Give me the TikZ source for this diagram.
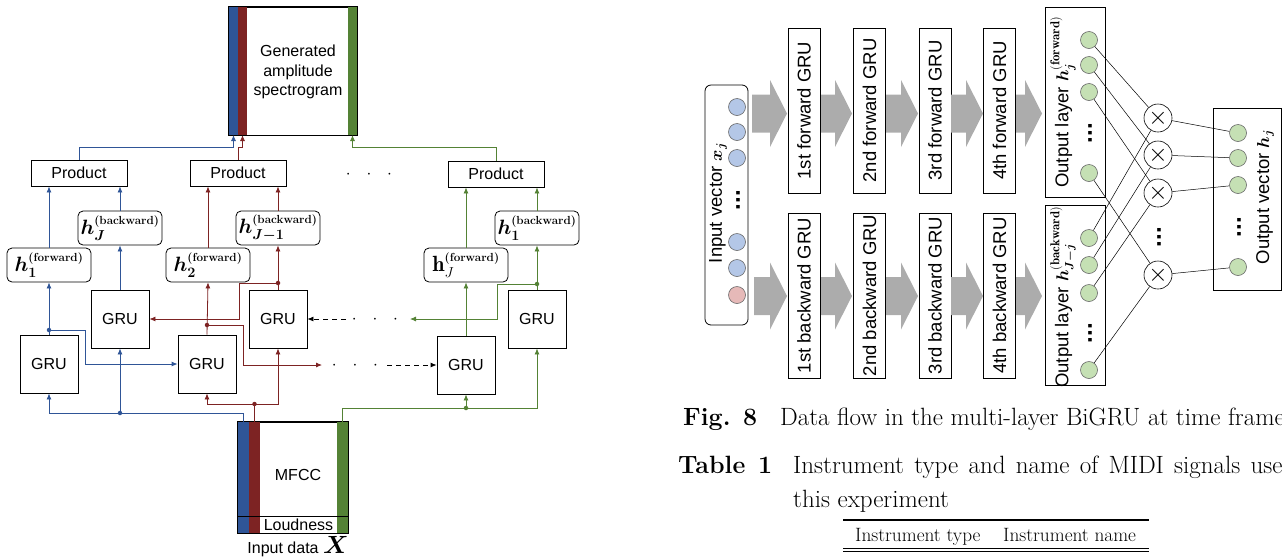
\documentclass[tikz,border=0pt]{standalone}
\usepackage{amsmath}
\usepackage{bm}
\usepackage{fontspec}
\setsansfont{Liberation Sans}
\usepackage{tikz}
\usetikzlibrary{arrows.meta,calc,positioning}
\definecolor{bluec}{RGB}{47,85,151}
\definecolor{redc}{RGB}{125,35,35}
\definecolor{greenc}{RGB}{84,130,53}
\definecolor{inblue}{RGB}{180,199,231}
\definecolor{inpink}{RGB}{230,185,184}
\definecolor{outgreen}{RGB}{197,224,180}
\definecolor{fatgray}{RGB}{172,172,172}
\newcommand\lfont{\fontsize{16}{19.5}\selectfont\sffamily}
\newcommand\hfont{\fontsize{22}{22}\selectfont}
\newcommand\rfont{\fontsize{18.5}{18.5}\selectfont\sffamily}
\newcommand\capfont{\fontsize{25}{26}\selectfont}
\newcommand\tabfont{\fontsize{19.3}{20}\selectfont}
\newcommand\hsub[1]{\text{\fontsize{14}{14}\selectfont$#1$}}
\newcommand\hsup[1]{\text{\fontsize{11.7}{12}\selectfont\bfseries #1}}
% fat gray arrow: from x #1 to tip x #2 at height #3
\newcommand\fatarrow[3]{\fill[fatgray] (#1,#3-19) -- (#2-17,#3-19) -- (#2-17,#3-33.5)
  -- (#2,#3) -- (#2-17,#3+33.5) -- (#2-17,#3+19) -- (#1,#3+19) -- cycle;}

\begin{document}
\begin{tikzpicture}[x=1pt,y=-1pt,>={Latex[length=6pt,width=5pt]}]
  \useasboundingbox (0,0) rectangle (1282,558);
  \tikzstyle{box}=[draw,line width=0.8pt,inner sep=0pt,font=\lfont]
  \tikzstyle{gru}=[box,minimum width=58,minimum height=58]
  \tikzstyle{prod}=[box,minimum width=96,minimum height=26]
  \tikzstyle{hbox}=[box,rounded corners=5pt,minimum width=84,minimum height=34,inner sep=1pt,font=\hfont]
  \tikzstyle{dot}=[circle,fill,inner sep=0pt,minimum size=4.5pt]
  \tikzstyle{bl}=[bluec,line width=0.8pt]
  \tikzstyle{rl}=[redc,line width=0.8pt]
  \tikzstyle{gl}=[greenc,line width=0.8pt]
  \tikzstyle{dl}=[line width=0.8pt,dash pattern=on 5pt off 4pt]
  \tikzstyle{gbox}=[box,rotate=90,minimum width=165,minimum height=32,font=\rfont]
  \tikzstyle{incirc}=[circle,draw=black!60,line width=0.6pt,fill=inblue,minimum size=17,inner sep=0pt]
  \tikzstyle{outcirc}=[incirc,fill=outgreen]
  \tikzstyle{mulcirc}=[circle,draw,line width=0.6pt,minimum size=28,inner sep=0pt,font=\fontsize{30}{30}\selectfont]
  \tikzstyle{vdots}=[rotate=90,inner sep=0pt,font=\fontsize{24}{24}\selectfont\sffamily\bfseries]
  \tikzstyle{wire}=[line width=0.5pt]

  % ---------- left: generated spectrogram from MFCC ----------
  \node[box,minimum width=128,minimum height=128] (spec) at (293,71) {};
  \fill[bluec] (spec.north west) rectangle ($(spec.south west)+(9,0)$);
  \fill[redc] ($(spec.north west)+(9,0)$) rectangle ($(spec.south west)+(18,0)$);
  \fill[greenc] ($(spec.north east)+(-9,0)$) rectangle (spec.south east);
  \draw[line width=0.9pt] (spec.north west) rectangle (spec.south east);
  \node[font=\lfont,align=center] (spectxt) at (298,72) {Generated\\amplitude\\spectrogram};

  \node[prod] (proda) at (79,173) {Product};
  \node[prod] (prodb) at (238,173) {Product};
  \node[prod] (prodc) at (496,174) {Product};
  \node[anchor=base,font=\lfont] (pdots) at (369,178) {$\cdot\hspace{12pt}\cdot\hspace{12pt}\cdot$};

  \node[hbox] (hfa) at (49,265) {$\bm{h}_{\hsub{\bm{1}}}^{\hsup{(forward)}}$};
  \node[hbox] (hba) at (120,228) {$\bm{h}_{\hsub{\bm{J}}}^{\hsup{(backward)}}$};
  \node[hbox] (hfb) at (208,265) {$\bm{h}_{\hsub{\bm{2}}}^{\hsup{(forward)}}$};
  \node[hbox] (hbb) at (278,228) {$\bm{h}_{\hsub{\bm{J{-}1}}}^{\hsup{(backward)}}$};
  \node[hbox] (hfc) at (466,265) {$\mathbf{h}_{\hsub{J}}^{\hsup{(forward)}}$};
  \node[hbox] (hbc) at (537,228) {$\bm{h}_{\hsub{\bm{1}}}^{\hsup{(backward)}}$};

  \node[gru] (grua) at (49,364) {GRU};
  \node[gru] (grub) at (120,319) {GRU};
  \node[gru] (gruc) at (207,364) {GRU};
  \node[gru] (grud) at (278,319) {GRU};
  \node[gru] (grue) at (466,365) {GRU};
  \node[gru] (gruf) at (537,319) {GRU};

  \node[box,minimum width=110,minimum height=111] (mfcc) at (293,477.5) {};
  \fill[bluec] (mfcc.north west) rectangle ($(mfcc.south west)+(11,0)$);
  \fill[redc] ($(mfcc.north west)+(11,0)$) rectangle ($(mfcc.south west)+(22,0)$);
  \fill[greenc] ($(mfcc.north east)+(-11,0)$) rectangle (mfcc.south east);
  \draw[line width=0.9pt] (mfcc.north west) rectangle (mfcc.south east);
  \draw[line width=1.8pt] ($(mfcc.south west)+(0,-17)$) -- ($(mfcc.south east)+(0,-17)$);
  \node[font=\lfont] (mfcctxt) at (298,475) {MFCC};
  \node[font=\lfont] (loud) at (298.5,525) {Loudness};
  \node[font=\lfont] (indata) at (298,547) {Input data {\fontsize{24}{24}\selectfont$\bm{X}$}};

  % named ends of the wires
  \coordinate (inb) at (243.5,422);
  \coordinate (inr) at (254.5,422);
  \coordinate (ing) at (342.5,422);
  \coordinate (jb) at (120,413);
  \coordinate (jr) at (254.5,404);
  \coordinate (jg) at (466,408);
  \coordinate (da) at (49,330);
  \coordinate (dc) at (207,325);
  \coordinate (dd) at (278,283);
  \coordinate (df) at (537,284);
  \coordinate (sb) at (233.5,135);
  \coordinate (sr) at (242.5,135);
  \coordinate (sg) at (352.5,135);
  \coordinate (rend) at (322,365);
  \coordinate (gend) at (410,319);
  \coordinate (dstart) at (346,319);
  \coordinate (estart) at (387,365);

  % blue
  \draw[bl] (inb) |- (jb);
  \draw[bl,->] (jb) -| (grua.south);
  \draw[bl,->] (jb) -- (grub.south);
  \draw[bl,->] (grua.north) -- (hfa.south);
  \draw[bl,->] (da) -- ++(36,0) |- (gruc.west);
  \draw[bl,->] (grub.north) -- (hba.south);
  \draw[bl,->] (hfa.north) -- (hfa.north |- proda.south);
  \draw[bl,->] (hba.north) -- (hba.north |- proda.south);
  \draw[bl,->] (proda.north) -- ++(0,-12) -| (sb);
  \node[dot,bluec] at (jb) {};
  \node[dot,bluec] at (da) {};

  % red
  \draw[rl] (inr) -- (jr);
  \draw[rl,->] (jr) -| (gruc.south);
  \draw[rl,->] (jr) -| (grud.south);
  \draw[rl,->] (gruc.north) -- (hfb.south);
  \draw[rl,->] (dc) -- ++(36,0) |- (rend);
  \draw[rl,->] (grud.north) -- (hbb.south);
  \draw[rl,->] (dd) -- ++(-39,0) |- (grub.east);
  \draw[rl,->] (hfb.north) -- (hfb.north |- prodb.south);
  \draw[rl,->] (hbb.north) -- (hbb.north |- prodb.south);
  \draw[rl,->] (prodb.north) -- ++(0,-12) -| (sr);
  \node[dot,redc] at (jr) {};
  \node[dot,redc] at (dc) {};
  \node[dot,redc] at (dd) {};

  % green
  \draw[gl] (ing) |- (jg);
  \draw[gl,->] (jg) -- (grue.south);
  \draw[gl,->] (jg) -| (gruf.south);
  \draw[gl,->] (grue.north) -- (hfc.south);
  \draw[gl,->] (gruf.north) -- (hbc.south);
  \draw[gl,->] (df) -- ++(-40,0) |- (gend);
  \draw[gl,->] (hfc.north) -- (hfc.north |- prodc.south);
  \draw[gl,->] (hbc.north) -- (hbc.north |- prodc.south);
  \draw[gl,->] (prodc.north) -- ++(0,-13) -| (sg);
  \node[dot,greenc] at (jg) {};
  \node[dot,greenc] at (df) {};

  % skipped time frames
  \draw[dl,->] (dstart) -- (grud.east);
  \draw[dl,->] (estart) -- (grue.west);
  \node[anchor=base,font=\lfont] (mdots) at (375,323) {$\cdot\hspace{12pt}\cdot\hspace{12pt}\cdot$};
  \node[anchor=base,font=\lfont] (ldots) at (355,369) {$\cdot\hspace{12pt}\cdot\hspace{12pt}\cdot$};

  % ---------- right: multi-layer BiGRU ----------
  \node[box,rounded corners=6pt,minimum width=43,minimum height=240] (xin) at (726.5,205) {};
  \node[rotate=90,font=\rfont] (xlab) at (718,203) {Input vector $\bm{x}_{\bm{j}}$};
  \node[incirc] (xa) at (737,107) {};
  \node[incirc] (xb) at (737,132) {};
  \node[incirc] (xc) at (737,158) {};
  \node[vdots] (xdots) at (738,200) {...};
  \node[incirc] (xd) at (737,242) {};
  \node[incirc] (xe) at (737,268) {};
  \node[incirc,fill=inpink] (xf) at (737,295) {};

  \node[gbox] (fwa) at (804,110.5) {1st forward GRU};
  \node[gbox] (fwb) at (869.5,110.5) {2nd forward GRU};
  \node[gbox] (fwc) at (935,110.5) {3rd forward GRU};
  \node[gbox] (fwd) at (999.5,110.5) {4th forward GRU};
  \node[gbox] (bwa) at (804,295.5) {1st backward GRU};
  \node[gbox] (bwb) at (869.5,295.5) {2nd backward GRU};
  \node[gbox] (bwc) at (935,295.5) {3rd backward GRU};
  \node[gbox] (bwd) at (999.5,295.5) {4th backward GRU};

  \fatarrow{752}{787}{113.5}
  \fatarrow{821}{852}{113.5}
  \fatarrow{886}{918}{113.5}
  \fatarrow{951}{983}{113.5}
  \fatarrow{1016}{1042}{113.5}
  \fatarrow{754}{787}{296}
  \fatarrow{821}{852}{296}
  \fatarrow{886}{918}{296}
  \fatarrow{951}{983}{296}
  \fatarrow{1016}{1042}{296}

  \node[box,minimum width=60,minimum height=190] (flay) at (1075,102) {};
  \node[rotate=90,font=\rfont] (flab) at (1063,102) {Output layer $\bm{h}_{\bm{j}}^{\mathbf{(forward)}}$};
  \node[outcirc] (fa) at (1089,40) {};
  \node[outcirc] (fb) at (1089,65) {};
  \node[outcirc] (fc) at (1089,92) {};
  \node[vdots] (fdots) at (1090,133) {...};
  \node[outcirc] (fd) at (1089,173) {};

  \node[box,minimum width=60,minimum height=180] (blay) at (1075,295) {};
  \node[rotate=90,font=\rfont] (blab) at (1063,297) {Output layer $\bm{h}_{\bm{J-j}}^{\mathbf{(backward)}}$};
  \node[outcirc] (ba) at (1089,238) {};
  \node[outcirc] (bb) at (1089,265) {};
  \node[outcirc] (bc) at (1089,293) {};
  \node[vdots] (bdots) at (1090,333) {...};
  \node[outcirc] (bd) at (1089,370) {};

  \node[mulcirc] (ma) at (1158,118) {$\times$};
  \node[mulcirc] (mb) at (1158,155) {$\times$};
  \node[mulcirc] (mc) at (1158,193) {$\times$};
  \node[vdots] (mdots2) at (1159,237) {...};
  \node[mulcirc] (md) at (1158,275) {$\times$};

  \node[box,minimum width=68,minimum height=182] (ovec) at (1247,199) {};
  \node[rotate=90,font=\rfont] (olab) at (1265,197) {Output vector $\bm{h}_{\bm{j}}$};
  \node[outcirc] (oa) at (1238,133) {};
  \node[outcirc] (ob) at (1238,158) {};
  \node[outcirc] (oc) at (1238,185) {};
  \node[vdots] (odots) at (1239,227) {...};
  \node[outcirc] (od) at (1238,267) {};

  \draw[wire] (fa) -- (ma);
  \draw[wire] (fb) -- (mb);
  \draw[wire] (fc) -- (mc);
  \draw[wire] (fd) -- (md);
  \draw[wire] (ba) -- (ma);
  \draw[wire] (bb) -- (mb);
  \draw[wire] (bc) -- (mc);
  \draw[wire] (bd) -- (md);
  \draw[wire] (ma) -- (oa);
  \draw[wire] (mb) -- (ob);
  \draw[wire] (mc) -- (oc);
  \draw[wire] (md) -- (od);

  % ---------- caption and table head ----------
  \node[anchor=base west,inner sep=0pt,font=\capfont\bfseries] (figlab) at (683,425) {Fig.};
  \node[anchor=base west,inner sep=0pt,font=\capfont\bfseries] (fignum) at (743,425) {8};
  \node[anchor=base west,inner sep=0pt,font=\capfont] (figtxt) at (780,425) {Data flow in the multi-layer BiGRU at time frame};
  \node[anchor=base west,inner sep=0pt,font=\capfont\bfseries] (tablab) at (678,473) {Table};
  \node[anchor=base west,inner sep=0pt,font=\capfont\bfseries] (tabnum) at (758,473) {1};
  \node[anchor=base west,inner sep=0pt,font=\capfont] (tabtxt) at (793,473) {\spaceskip=10.3pt\relax Instrument type and name of MIDI signals used};
  \node[anchor=base west,inner sep=0pt,font=\capfont] (tabtxtb) at (793,507) {this experiment};
  \draw[line width=1.6pt] (843,520) -- (1149,520);
  \node[anchor=base west,inner sep=0pt,font=\tabfont] (hdtype) at (855,541) {Instrument type};
  \node[anchor=base west,inner sep=0pt,font=\tabfont] (hdname) at (1003,541) {Instrument name};
  \draw[line width=0.8pt] (843,548) -- (1149,548);
  \draw[line width=0.8pt] (843,551.5) -- (1149,551.5);
\end{tikzpicture}
\end{document}
